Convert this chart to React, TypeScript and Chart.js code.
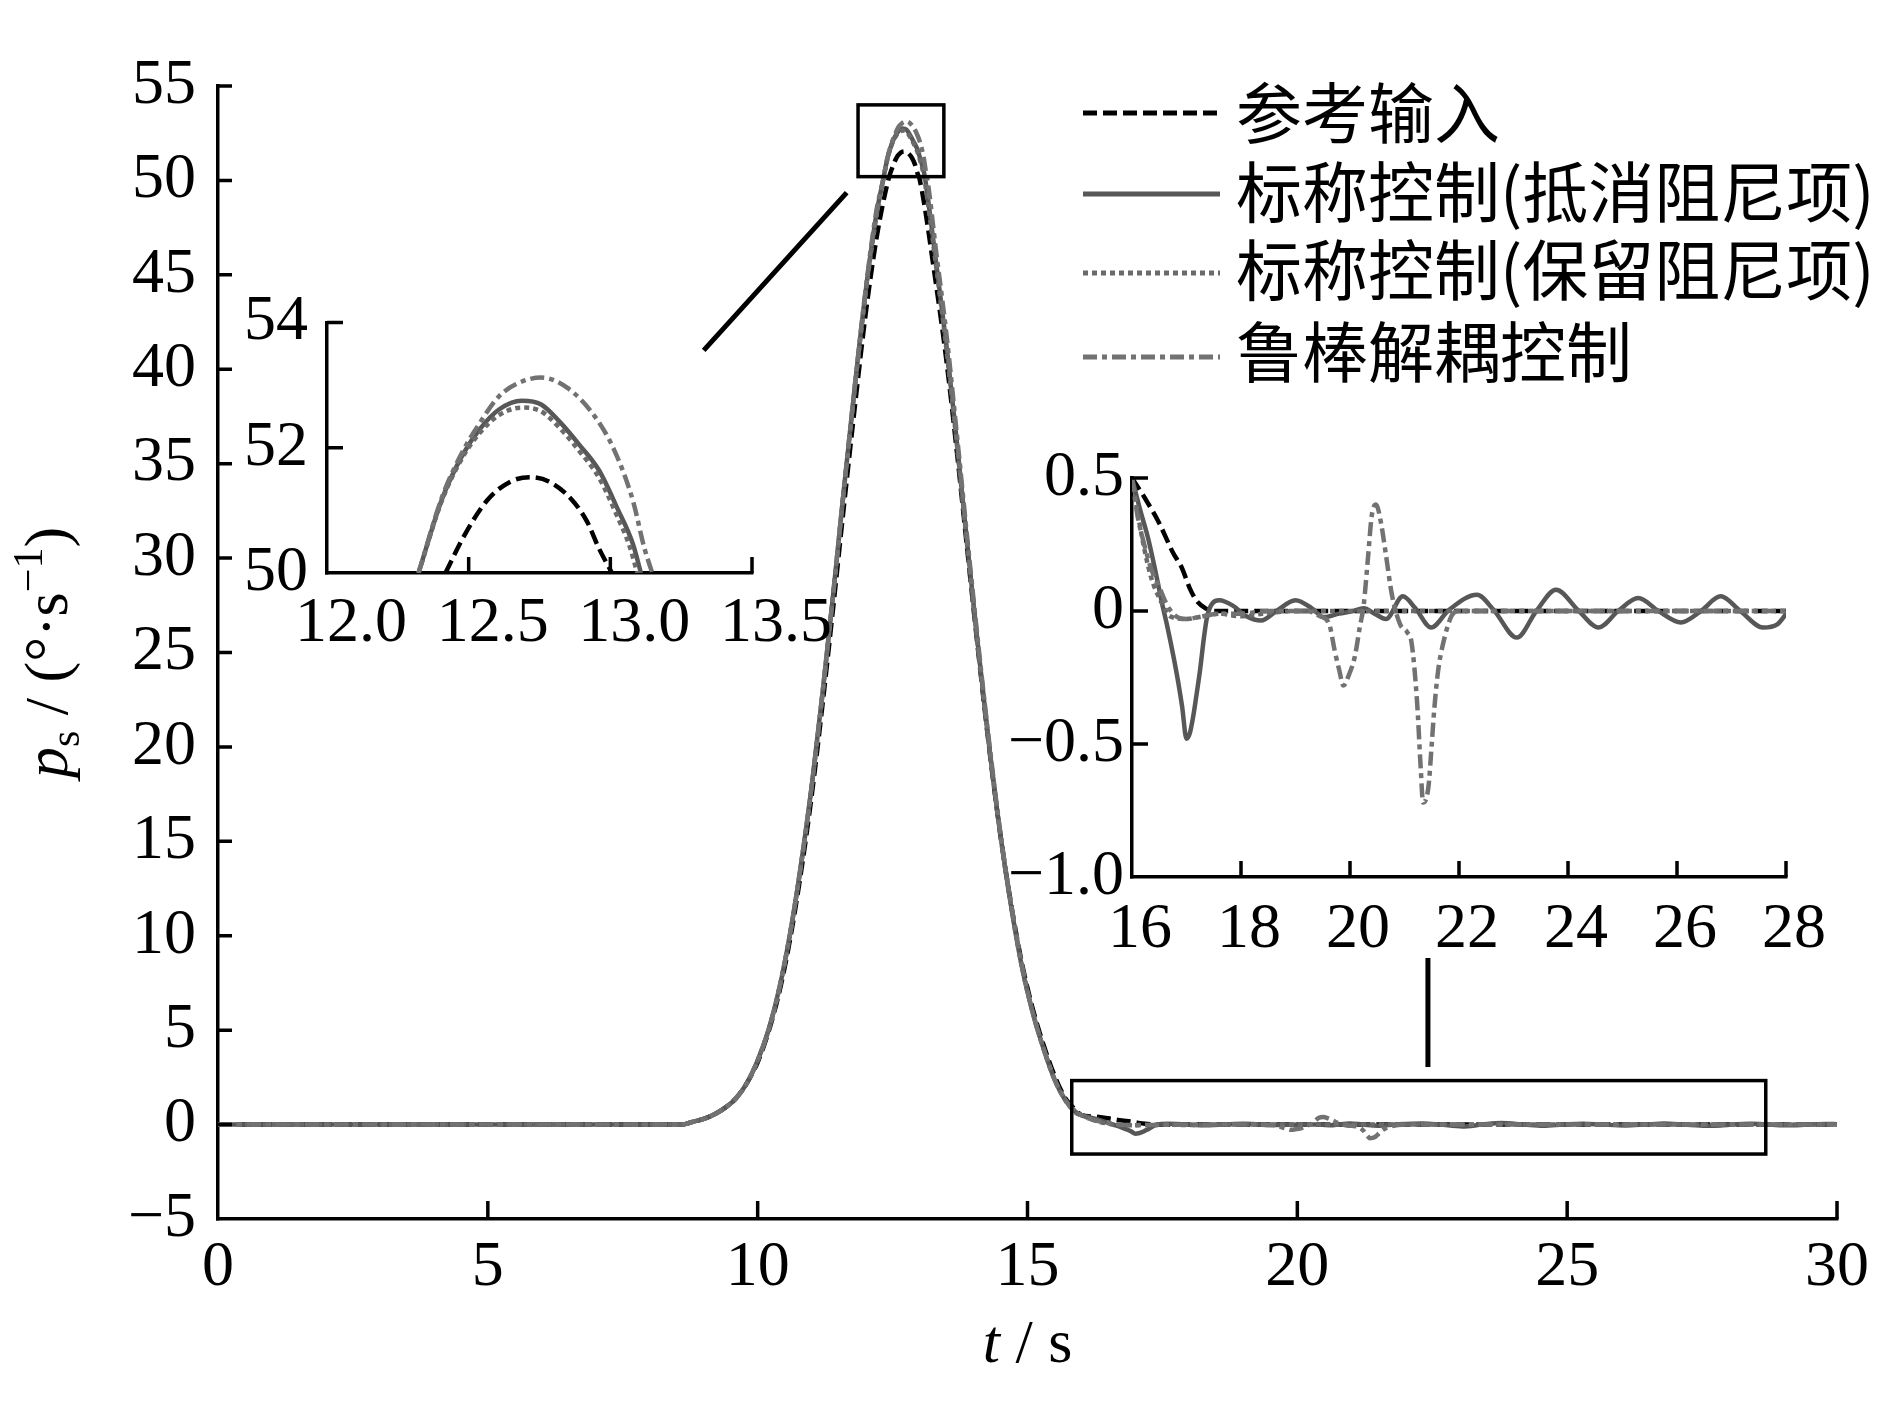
import React, { useEffect, useRef } from 'react';
import { Chart, registerables } from 'chart.js';

Chart.register(...registerables);

const SERIF = "'Liberation Serif', 'Times New Roman', serif";
const CJK = "'Noto Sans CJK SC', 'Noto Sans CJK JP', sans-serif";
const TICK_SIZE = 64;

// ---------------- data ----------------
const seriesLabels = ['参考输入', '标称控制(抵消阻尼项)', '标称控制(保留阻尼项)', '鲁棒解耦控制'];

// rising edge of the pulse (shared time base)
const riseT = [0, 8.6, 8.8, 9.0, 9.2, 9.4, 9.6, 9.8, 10.0, 10.2, 10.4, 10.6, 10.8, 11.0, 11.2, 11.4, 11.6, 11.8, 12.0, 12.2];
const refRiseV = [0, 0, 0.15, 0.3, 0.55, 0.9, 1.4, 2.2, 3.3, 4.9, 7.0, 9.8, 13.3, 17.4, 22.2, 27.4, 32.8, 38.0, 42.9, 46.9];
const cancelRiseV = [0, 0, 0.15, 0.3, 0.55, 0.9, 1.4, 2.2, 3.4, 5.0, 7.2, 10.1, 13.7, 17.9, 22.8, 28.1, 33.7, 39.1, 44.1, 48.2];
const keepRiseV = [0, 0, 0.15, 0.3, 0.55, 0.9, 1.4, 2.2, 3.4, 5.0, 7.2, 10.1, 13.7, 17.9, 22.8, 28.1, 33.7, 39.0, 44.0, 48.1];
const robustRiseV = [0, 0, 0.15, 0.3, 0.55, 0.9, 1.4, 2.2, 3.4, 5.0, 7.2, 10.1, 13.7, 17.9, 22.8, 28.1, 33.7, 39.1, 44.2, 48.4];

// peak region (also shown in the upper-left inset)
const refPeakT = [12.418, 12.486, 12.567, 12.648, 12.716, 12.783, 12.864, 12.918, 12.959, 13.006];
const refPeakV = [50.0, 50.61, 51.17, 51.46, 51.53, 51.46, 51.17, 50.82, 50.4, 50.0];
const cancelPeakT = [12.323, 12.405, 12.479, 12.54, 12.607, 12.688, 12.756, 12.824, 12.89, 12.96, 13.026, 13.08, 13.108];
const cancelPeakV = [50.0, 51.17, 51.89, 52.3, 52.61, 52.75, 52.69, 52.4, 52.05, 51.64, 51.02, 50.46, 50.0];
const keepPeakT = [12.323, 12.405, 12.479, 12.54, 12.607, 12.688, 12.756, 12.824, 12.89, 12.96, 13.02, 13.07, 13.095];
const keepPeakV = [50.0, 51.15, 51.85, 52.24, 52.52, 52.64, 52.58, 52.3, 51.95, 51.52, 50.95, 50.4, 50.0];
const robustPeakT = [12.323, 12.405, 12.48, 12.54, 12.607, 12.675, 12.756, 12.85, 12.945, 13.013, 13.08, 13.12, 13.148];
const robustPeakV = [50.0, 51.2, 51.95, 52.4, 52.82, 53.03, 53.12, 52.95, 52.5, 51.97, 51.15, 50.4, 50.0];

// falling edge (shared time base)
const fallT = [13.3, 13.5, 13.7, 13.9, 14.1, 14.3, 14.5, 14.7, 14.9, 15.1, 15.3, 15.5, 15.7, 15.9];
const refFallV = [44.6, 40.4, 35.4, 30.0, 24.7, 19.7, 15.3, 11.6, 8.5, 6.1, 4.2, 2.6, 1.4, 0.75];
const cancelFallV = [45.8, 41.2, 35.9, 30.3, 24.9, 19.8, 15.3, 11.5, 8.3, 5.9, 4.0, 2.4, 1.3, 0.65];
const keepFallV = [45.6, 41.0, 35.8, 30.2, 24.8, 19.8, 15.3, 11.5, 8.3, 5.9, 4.0, 2.4, 1.3, 0.62];
const robustFallV = [46.4, 41.8, 36.3, 30.6, 25.1, 20.0, 15.4, 11.6, 8.4, 5.9, 4.0, 2.4, 1.3, 0.65];

// tail (also shown in the right inset)
const refTailT = [16.0, 16.25, 16.5, 16.75, 16.92, 17.05, 17.18, 17.35, 17.5, 30.0];
const refTailV = [0.5, 0.42, 0.33, 0.22, 0.16, 0.09, 0.04, 0.01, 0, 0];
const cancelTailT = [16.0, 16.15, 16.3, 16.45, 16.55, 16.65, 16.76, 16.85, 16.92, 17.0, 17.06, 17.12, 17.18, 17.25, 17.32, 17.38, 17.48, 17.6, 17.85, 18.1, 18.37, 18.65, 19.0, 19.3, 19.52, 19.8, 20.05, 20.25, 20.45, 20.66, 20.97, 21.2, 21.49, 21.81, 22.33, 22.64, 23.06, 23.42, 23.78, 24.2, 24.56, 24.92, 25.29, 25.66, 26.07, 26.44, 26.8, 27.16, 27.58, 27.84, 28.05, 28.4, 28.75, 29.1, 29.45, 29.8, 30.0];
const cancelTailV = [0.5, 0.38, 0.27, 0.13, 0.03, -0.06, -0.17, -0.27, -0.36, -0.48, -0.46, -0.4, -0.32, -0.22, -0.1, -0.02, 0.03, 0.04, 0.02, -0.02, -0.036, 0.0, 0.04, 0.01, -0.023, -0.01, 0.0, 0.01, -0.01, -0.03, 0.055, 0.01, -0.062, 0.003, 0.061, 0.003, -0.1, 0.0, 0.08, 0.0, -0.062, 0.0, 0.049, 0.0, -0.043, 0.0, 0.055, 0.0, -0.062, -0.05, 0.0, 0.04, 0.0, -0.04, 0.0, 0.035, 0.02];
const keepTailT = [16.0, 16.12, 16.24, 16.36, 16.5, 16.7, 17.0, 17.3, 17.6, 18.0, 18.4, 19.0, 30.0];
const keepTailV = [0.5, 0.35, 0.22, 0.12, 0.05, -0.02, -0.03, -0.02, -0.01, -0.02, -0.01, 0.0, 0.0];
const robustTailT = [16.0, 16.1, 16.2, 16.35, 16.5, 16.65, 16.81, 17.0, 17.3, 17.6, 18.0, 18.5, 19.2, 19.45, 19.62, 19.72, 19.8, 19.88, 19.98, 20.09, 20.18, 20.25, 20.33, 20.4, 20.48, 20.57, 20.66, 20.77, 20.92, 21.05, 21.13, 21.23, 21.3, 21.34, 21.44, 21.5, 21.55, 21.62, 21.7, 21.86, 22.0, 30.0];
const robustTailV = [0.5, 0.36, 0.27, 0.16, 0.09, 0.02, -0.02, -0.03, -0.02, -0.01, -0.01, 0.0, 0.0, -0.02, -0.05, -0.15, -0.22, -0.28, -0.24, -0.17, -0.06, 0.02, 0.2, 0.36, 0.4, 0.33, 0.21, 0.06, -0.05, -0.08, -0.12, -0.34, -0.6, -0.72, -0.66, -0.5, -0.36, -0.22, -0.13, -0.02, 0.0, 0.0];

// ticks
const mainXTicks = [0, 5, 10, 15, 20, 25, 30];
const mainXLabels = ['0', '5', '10', '15', '20', '25', '30'];
const mainYTicks = [-5, 0, 5, 10, 15, 20, 25, 30, 35, 40, 45, 50, 55];
const mainYLabels = ['−5', '0', '5', '10', '15', '20', '25', '30', '35', '40', '45', '50', '55'];
const peakXTicks = [12.0, 12.5, 13.0, 13.5];
const peakXLabels = ['12.0', '12.5', '13.0', '13.5'];
const peakYTicks = [50, 52, 54];
const peakYLabels = ['50', '52', '54'];
const tailXTicks = [16, 18, 20, 22, 24, 26, 28];
const tailXLabels = ['16', '18', '20', '22', '24', '26', '28'];
const tailYTicks = [-1.0, -0.5, 0, 0.5];
const tailYLabels = ['−1.0', '−0.5', '0', '0.5'];

// zoom boxes and connectors (data coordinates of the main plot)
const peakBoxX = [11.86, 13.45];
const peakBoxY = [50.2, 54.0];
const tailBoxX = [15.82, 28.68];
const tailBoxY = [-1.56, 2.33];
const peakLinkX = [9.0, 11.65];
const peakLinkY = [41.0, 49.35];
const tailLinkX = [22.42, 22.42];
const tailLinkY = [3.05, 8.82];

// ---------------- styles ----------------
const seriesStyle = [
  { color: '#000000', dash: [14, 6], width: 4.5, order: 3 },
  { color: '#575757', dash: [] as number[], width: 4.5, order: 2 },
  { color: '#6a6a6a', dash: [5, 4], width: 4.5, order: 1 },
  { color: '#727272', dash: [14, 5, 5, 5], width: 4.5, order: 0 },
];

const pts = (t: number[], v: number[]) => {
  const n = Math.min(t.length, v.length);
  const out: { x: number; y: number }[] = [];
  for (let i = 0; i < n; i++) out.push({ x: t[i], y: v[i] });
  return out;
};

const riseV = [refRiseV, cancelRiseV, keepRiseV, robustRiseV];
const peakT = [refPeakT, cancelPeakT, keepPeakT, robustPeakT];
const peakV = [refPeakV, cancelPeakV, keepPeakV, robustPeakV];
const fallV = [refFallV, cancelFallV, keepFallV, robustFallV];
const tailT = [refTailT, cancelTailT, keepTailT, robustTailT];
const tailV = [refTailV, cancelTailV, keepTailV, robustTailV];

function datasets(kind: 'main' | 'peak' | 'tail') {
  return seriesLabels.map((label, i) => {
    let data: { x: number; y: number }[];
    if (kind === 'main') {
      data = [...pts(riseT, riseV[i]), ...pts(peakT[i], peakV[i]), ...pts(fallT, fallV[i]), ...pts(tailT[i], tailV[i])];
    } else if (kind === 'peak') {
      data = pts(peakT[i], peakV[i]);
    } else {
      data = pts(tailT[i], tailV[i]);
    }
    const s = seriesStyle[i];
    return {
      label,
      data,
      borderColor: s.color,
      backgroundColor: s.color,
      borderDash: s.dash,
      borderWidth: s.width,
      order: s.order,
      pointRadius: 0,
      fill: false,
      cubicInterpolationMode: 'monotone',
      borderCapStyle: 'butt',
      borderJoinStyle: 'round',
    };
  });
}

// ---------------- plugins ----------------
const inwardTicks = {
  id: 'inwardTicks',
  afterDraw(chart: any, _a: any, opts: any) {
    const { ctx, chartArea: ca } = chart;
    const xs = chart.scales.x;
    const ys = chart.scales.y;
    ctx.save();
    ctx.strokeStyle = '#000';
    ctx.lineWidth = opts.width || 3;
    ctx.beginPath();
    for (const t of xs.ticks) {
      const p = xs.getPixelForValue(t.value);
      if (Math.abs(p - ca.left) < 2) continue;
      ctx.moveTo(p, ca.bottom);
      ctx.lineTo(p, ca.bottom - opts.xLen);
    }
    for (const t of ys.ticks) {
      const p = ys.getPixelForValue(t.value);
      if (Math.abs(p - ca.bottom) < 2) continue;
      ctx.moveTo(ca.left, p);
      ctx.lineTo(ca.left + opts.yLen, p);
    }
    ctx.stroke();
    ctx.restore();
  },
};

const zoomMarks = {
  id: 'zoomMarks',
  afterDatasetsDraw(chart: any) {
    const { ctx } = chart;
    const xs = chart.scales.x;
    const ys = chart.scales.y;
    const X = (v: number) => xs.getPixelForValue(v);
    const Y = (v: number) => ys.getPixelForValue(v);
    ctx.save();
    ctx.strokeStyle = '#000';
    ctx.setLineDash([]);
    ctx.lineWidth = 3.5;
    ctx.strokeRect(X(peakBoxX[0]), Y(peakBoxY[1]), X(peakBoxX[1]) - X(peakBoxX[0]), Y(peakBoxY[0]) - Y(peakBoxY[1]));
    ctx.strokeRect(X(tailBoxX[0]), Y(tailBoxY[1]), X(tailBoxX[1]) - X(tailBoxX[0]), Y(tailBoxY[0]) - Y(tailBoxY[1]));
    ctx.lineWidth = 5;
    ctx.beginPath();
    ctx.moveTo(X(peakLinkX[0]), Y(peakLinkY[0]));
    ctx.lineTo(X(peakLinkX[1]), Y(peakLinkY[1]));
    ctx.moveTo(X(tailLinkX[0]), Y(tailLinkY[0]));
    ctx.lineTo(X(tailLinkX[1]), Y(tailLinkY[1]));
    ctx.stroke();
    ctx.restore();
  },
};

type Run = { t: string; f: string; dy: number };
function drawRuns(ctx: CanvasRenderingContext2D, runs: Run[], cx: number, baseline: number) {
  let total = 0;
  for (const r of runs) {
    ctx.font = r.f;
    total += ctx.measureText(r.t).width;
  }
  let x = cx - total / 2;
  ctx.textBaseline = 'alphabetic';
  ctx.textAlign = 'left';
  for (const r of runs) {
    ctx.font = r.f;
    ctx.fillText(r.t, x, baseline + r.dy);
    x += ctx.measureText(r.t).width;
  }
}

const axisTitles = {
  id: 'axisTitles',
  afterDraw(chart: any) {
    const { ctx, chartArea: ca } = chart;
    ctx.save();
    ctx.fillStyle = '#000';
    drawRuns(ctx, [
      { t: 't', f: `italic 62px ${SERIF}`, dy: 0 },
      { t: ' / s', f: `62px ${SERIF}`, dy: 0 },
    ], (ca.left + ca.right) / 2, ca.bottom + 143);
    ctx.translate(ca.left - 151, (ca.top + ca.bottom) / 2);
    ctx.rotate(-Math.PI / 2);
    drawRuns(ctx, [
      { t: 'p', f: `italic 62px ${SERIF}`, dy: 0 },
      { t: 's', f: `42px ${SERIF}`, dy: 12 },
      { t: ' / (°·s', f: `62px ${SERIF}`, dy: 0 },
      { t: '−1', f: `42px ${SERIF}`, dy: -25 },
      { t: ')', f: `62px ${SERIF}`, dy: 0 },
    ], 0, 0);
    ctx.restore();
  },
};

const lineLegend = {
  id: 'lineLegend',
  afterDraw(chart: any, _a: any, opts: any) {
    const { ctx } = chart;
    ctx.save();
    chart.data.datasets.forEach((ds: any, i: number) => {
      const ly = opts.lineY[i];
      ctx.strokeStyle = ds.borderColor;
      ctx.lineWidth = ds.borderWidth + 0.5;
      ctx.setLineDash(ds.borderDash || []);
      ctx.lineCap = 'butt';
      ctx.beginPath();
      ctx.moveTo(opts.x0, ly);
      ctx.lineTo(opts.x1, ly);
      ctx.stroke();
      ctx.setLineDash([]);
      ctx.fillStyle = '#000';
      ctx.font = `66px ${CJK}`;
      ctx.textBaseline = 'middle';
      ctx.textAlign = 'left';
      ctx.fillText(ds.label, opts.textX, opts.textY[i]);
    });
    ctx.restore();
  },
};

// ---------------- chart builders ----------------
type Box = { left: number; top: number; width: number; height: number };
type Area = { L: number; T: number; R: number; B: number };

function scale(kind: 'x' | 'y', min: number, max: number, vals: number[], labels: string[], padding: number, size: number, labelOffset = 0) {
  return {
    type: 'linear',
    position: kind === 'x' ? 'bottom' : 'left',
    min,
    max,
    afterBuildTicks: (s: any) => {
      s.ticks = vals.map((v) => ({ value: v }));
    },
    afterFit: (s: any) => {
      if (kind === 'x') s.height = size;
      else s.width = size;
    },
    grid: { display: true, drawOnChartArea: false, drawTicks: false, color: '#000', lineWidth: 3.5 },
    border: { display: true, color: '#000', width: 3.5 },
    ticks: {
      autoSkip: false,
      maxRotation: 0,
      minRotation: 0,
      padding,
      labelOffset,
      color: '#000',
      font: { family: SERIF, size: TICK_SIZE },
      callback: (v: number) => {
        const i = vals.findIndex((q) => Math.abs(q - v) < 1e-9);
        return i >= 0 ? labels[i] : '';
      },
    },
  };
}

function buildConfig(kind: 'main' | 'peak' | 'tail', box: Box, area: Area) {
  const xs =
    kind === 'main' ? { min: 0, max: 30, v: mainXTicks, l: mainXLabels, pad: 11, off: 0 } :
    kind === 'peak' ? { min: 12.0, max: 13.5, v: peakXTicks, l: peakXLabels, pad: 13, off: 24 } :
    { min: 16, max: 28, v: tailXTicks, l: tailXLabels, pad: 15, off: 8 };
  const ys =
    kind === 'main' ? { min: -5, max: 55, v: mainYTicks, l: mainYLabels, pad: 22 } :
    kind === 'peak' ? { min: 50, max: 54, v: peakYTicks, l: peakYLabels, pad: 19 } :
    { min: -1.0, max: 0.5, v: tailYTicks, l: tailYLabels, pad: 8 };
  const plugins: any[] = [inwardTicks];
  if (kind === 'main') plugins.push(zoomMarks, axisTitles, lineLegend);
  return {
    type: 'line',
    data: { datasets: datasets(kind) },
    plugins,
    options: {
      responsive: false,
      animation: false,
      devicePixelRatio: 1,
      events: [],
      layout: {
        padding: { left: 0, top: area.T - box.top, right: box.left + box.width - area.R, bottom: 0 },
      },
      scales: {
        x: scale('x', xs.min, xs.max, xs.v, xs.l, xs.pad, box.top + box.height - area.B, xs.off),
        y: scale('y', ys.min, ys.max, ys.v, ys.l, ys.pad, area.L - box.left),
      },
      plugins: {
        legend: { display: false },
        tooltip: { enabled: false },
        title: { display: false },
        inwardTicks: { width: 3.5, xLen: kind === 'main' ? 18 : 16, yLen: kind === 'main' ? 14 : 16 },
        lineLegend: { x0: 1083, x1: 1220, textX: 1236, lineY: [113, 194, 273, 357], textY: [113, 192, 270, 352] },
      },
    },
  };
}

function ChartCanvas({ kind, box, area }: { kind: 'main' | 'peak' | 'tail'; box: Box; area: Area }) {
  const ref = useRef<HTMLCanvasElement | null>(null);
  useEffect(() => {
    if (!ref.current) return;
    const chart = new Chart(ref.current, buildConfig(kind, box, area) as any);
    return () => chart.destroy();
  }, []);
  return (
    <canvas
      ref={ref}
      width={box.width}
      height={box.height}
      style={{ position: 'absolute', left: box.left, top: box.top, width: box.width, height: box.height }}
    />
  );
}

export default function App() {
  return (
    <div style={{ position: 'absolute', left: 0, top: 0, width: 1890, height: 1417, background: '#ffffff', overflow: 'hidden' }}>
      <ChartCanvas kind="main" box={{ left: 0, top: 0, width: 1890, height: 1417 }} area={{ L: 218, T: 86, R: 1837, B: 1219 }} />
      <ChartCanvas kind="peak" box={{ left: 225, top: 265, width: 640, height: 400 }} area={{ L: 327, T: 313, R: 752, B: 573 }} />
      <ChartCanvas kind="tail" box={{ left: 985, top: 425, width: 890, height: 530 }} area={{ L: 1132, T: 478, R: 1786, B: 877 }} />
    </div>
  );
}
